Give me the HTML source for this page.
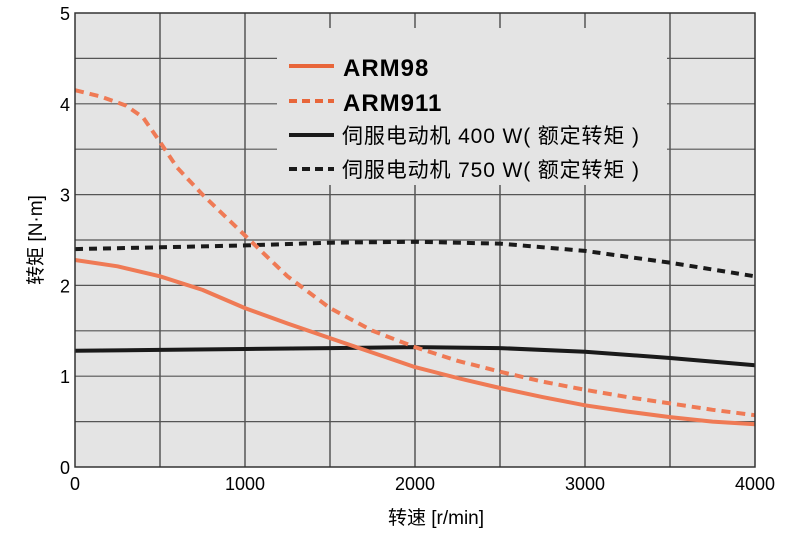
<!DOCTYPE html>
<html><head><meta charset="utf-8"><style>
body{margin:0;background:#fff;width:800px;height:532px;overflow:hidden}
svg text{font-family:"Liberation Sans","Noto Sans CJK SC",sans-serif}
</style></head><body>
<svg id="chart" width="800" height="532" viewBox="0 0 800 532" xmlns="http://www.w3.org/2000/svg">
<rect x="75" y="13" width="680" height="454" fill="#e4e4e4"/>
<g id="grid"></g>
<g>
<rect x="277" y="28" width="390" height="157" fill="#e4e4e4"/>
<line x1="289" y1="66" x2="334" y2="66" stroke="#e8663a" stroke-width="4"/>
<text x="343" y="76" font-size="24" font-weight="bold" letter-spacing="1">ARM98</text>
<line x1="289" y1="101" x2="334" y2="101" stroke="#e8663a" stroke-width="4" stroke-dasharray="8,5"/>
<text x="343" y="111" font-size="24" font-weight="bold" letter-spacing="1">ARM911</text>
<line x1="289" y1="135" x2="334" y2="135" stroke="#1a1a1a" stroke-width="4"/>
<text x="342" y="143" font-size="21" textLength="297">伺服电动机 400 W( 额定转矩 )</text>
<line x1="289" y1="169" x2="334" y2="169" stroke="#1a1a1a" stroke-width="4" stroke-dasharray="8,5"/>
<text x="342" y="177" font-size="21" textLength="297">伺服电动机 750 W( 额定转矩 )</text>
</g>
<g id="series"></g>
<g id="axes"></g>
<text x="436" y="524" font-size="19" text-anchor="middle">转速 [r/min]</text>
<text transform="translate(42,240) rotate(-90)" font-size="19" text-anchor="middle">转矩 [N·m]</text>
</svg>
<script>
const xTicks=[0,1000,2000,3000,4000];
const yTicks=[0,1,2,3,4,5];
const armX=[0,250,500,750,1000,1250,1500,1750,2000,2250,2500,2750,3000,3250,3500,3750,4000];
const arm98=[2.28,2.21,2.1,1.95,1.75,1.58,1.42,1.26,1.1,0.98,0.87,0.77,0.68,0.61,0.55,0.5,0.47];
const arm911X=[0,150,300,400,500,600,750,1000,1250,1500,1750,2000,2250,2500,2750,3000,3250,3500,3750,4000];
const arm911=[4.15,4.08,3.98,3.85,3.58,3.3,3.0,2.55,2.1,1.75,1.5,1.32,1.17,1.05,0.94,0.85,0.77,0.7,0.63,0.57];
const motX=[0,500,1000,1500,2000,2500,3000,3500,4000];
const m400=[1.28,1.29,1.3,1.31,1.32,1.31,1.27,1.2,1.12];
const m750=[2.4,2.42,2.44,2.47,2.48,2.46,2.38,2.25,2.1];
const NS="http://www.w3.org/2000/svg";
const X=v=>75+v/4000*680, Y=v=>467-v/5*454;
function mk(tag,attrs,parent){const e=document.createElementNS(NS,tag);for(const k in attrs)e.setAttribute(k,attrs[k]);parent.appendChild(e);return e;}
const grid=document.getElementById('grid'),axes=document.getElementById('axes'),series=document.getElementById('series');
for(let i=1;i<8;i++){const l=mk('line',{x1:X(i*500),x2:X(i*500),y1:13,y2:467,stroke:'#333','stroke-width':1.2},grid);

}
for(let i=1;i<10;i++){const l=mk('line',{x1:75,x2:755,y1:Y(i*0.5),y2:Y(i*0.5),stroke:'#555','stroke-width':1.2},grid);

}
const fr=mk('rect',{x:75,y:13,width:680,height:454,fill:'none',stroke:'#333','stroke-width':1.5},axes);


xTicks.forEach(v=>{const t=mk('text',{x:X(v),y:490,'font-size':18,'text-anchor':'middle'},axes);t.textContent=v;

});
yTicks.forEach(v=>{const t=mk('text',{x:70,y:Y(v)+7,'font-size':18,'text-anchor':'end'},axes);t.textContent=v;

});
function line(xs,ys,color,dash,name){const d=xs.map((x,i)=>(i?'L':'M')+X(x).toFixed(1)+','+Y(ys[i]).toFixed(1)).join('');
const p=mk('path',{d:d,fill:'none',stroke:color,'stroke-width':4,'stroke-linejoin':'round'},series);
if(dash)p.setAttribute('stroke-dasharray',dash);

}
line(motX,m400,'#1a1a1a',null,'line-400w');
line(motX,m750,'#1a1a1a','8,6','line-750w');
line(arm911X,arm911,'#ef7a55','9,6','line-arm911');
line(armX,arm98,'#ef7a55',null,'line-arm98');
</script>
</body></html>
